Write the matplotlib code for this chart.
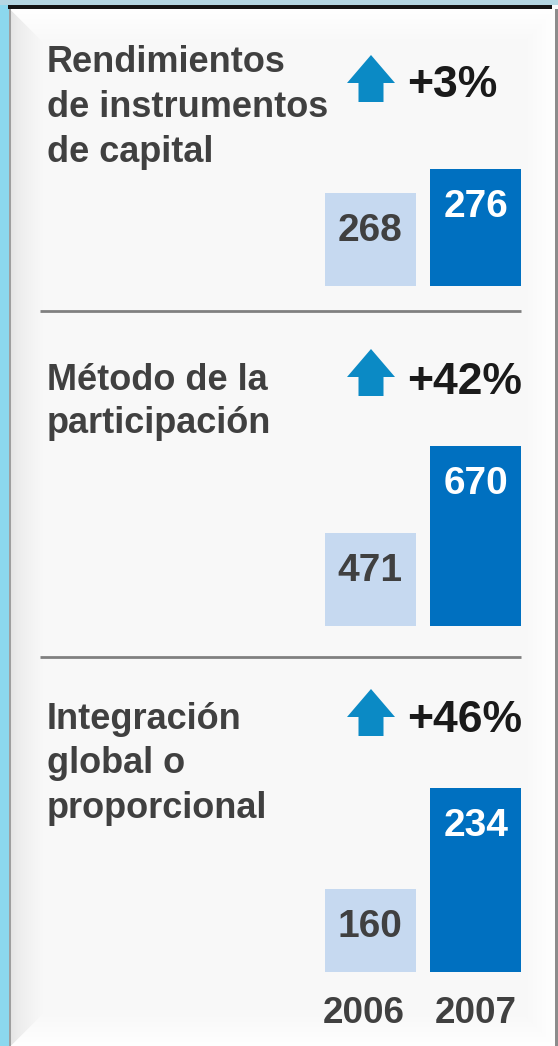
import numpy as np
import matplotlib
matplotlib.use("Agg")
import matplotlib.pyplot as plt
from matplotlib.patches import FancyArrow

# ---------------- data ----------------
years = ["2006", "2007"]
titles = ["Rendimientos\nde instrumentos\nde capital",
          "Método de la\nparticipación",
          "Integración\nglobal o\nproporcional"]
values_2006 = [268, 471, 160]
values_2007 = [276, 670, 234]
changes = ["+3%", "+42%", "+46%"]

# ---------------- layout (pixels) ----------------
W, H = 558, 1046
fig = plt.figure(figsize=(W / 100, H / 100), dpi=100)
plt.rcParams['font.family'] = ['Liberation Sans', 'DejaVu Sans']

# background
bg = np.ones((H, W, 3)) * 0.976
yy, xx = np.mgrid[0:H, 0:W]
# top / right / bottom lighter bevel bands (soft)
top_t = np.clip((yy - 9) / 30.0, 0, 1)
m = (yy >= 9) & (yy < 40) & (xx > 10 + (yy - 9))
bg[m] = (1.0 - 0.024 * top_t[m])[:, None]
right_t = np.clip((555 - xx) / 28.0, 0, 1)
m = (xx >= 527) & (xx < 555) & (yy > 9 + (555 - xx))
bg[m] = (1.0 - 0.024 * right_t[m])[:, None]
bot_t = np.clip((H - yy) / 30.0, 0, 1)
m = (yy >= 1016) & (xx > 10 + (H - yy)) & (xx < 555 - (H - yy))
bg[m] = (1.0 - 0.024 * bot_t[m])[:, None]
# left bevel gradient
left = (xx >= 10) & (xx < 45) & (yy > 9 + (xx - 10)) & (yy < H - (xx - 10))
t = (xx - 10) / 35.0
shade = 0.88 + (0.976 - 0.88) * np.clip(t, 0, 1) ** 0.5
bg[left] = shade[left][:, None]
# outer frame
bg[:, :9] = np.array([0x8c, 0xd8, 0xee]) / 255
bg[:5, :] = np.array([0xb4, 0xd6, 0xe2]) / 255
bg[5:9, 8:552] = 0.08
bg[9:, 9:11] = 0.62
bg[9:, 555:] = 0.55
bax = fig.add_axes([0, 0, 1, 1])
bax.imshow(bg, extent=(0, W, H, 0), aspect='auto', interpolation='nearest')
bax.set_xlim(0, W)
bax.set_ylim(H, 0)
bax.axis('off')

c2006 = '#C6D9F0'
c2007 = '#0070C0'
title_col = '#404040'
pct_col = '#1a1a1a'
arrow_col = '#0B8AC5'

bar_left, bar_right = 325, 521
# per-panel: (bar baseline px, top of tallest bar px, axis floor value)
panels = [(286, 169, 237), (626, 446, 258), (972, 788, 99)]
title_baselines = [[72, 117, 162], [390, 433], [729, 773, 818]]
arrow_tips = [55, 349, 689]
pct_baselines = [97, 394, 732]
separators = [311, 657]

w = 0.858
for i, (bot, top, floor) in enumerate(panels):
    ax = fig.add_axes([bar_left / W, 1 - bot / H, (bar_right - bar_left) / W, (bot - top) / H])
    vals = [values_2006[i], values_2007[i]]
    ax.bar([0, 1], vals, width=w, color=[c2006, c2007], bottom=0)
    ax.set_xlim(-w / 2, 1 + w / 2)
    ax.set_ylim(floor, max(vals))
    ax.axis('off')
    for j, v in enumerate(vals):
        ax.annotate(str(v), (j, v), xytext=(0, -48 * 0.72), textcoords='offset points',
                    ha='center', va='baseline', fontsize=28, fontweight='bold',
                    color=title_col if j == 0 else 'white')

    # titles
    for k, line in enumerate(titles[i].split("\n")):
        bax.text(47, title_baselines[i][k], line, ha='left', va='baseline',
                 fontsize=26, fontweight='bold', color=title_col)
    # arrow
    tip = arrow_tips[i]
    bax.add_patch(FancyArrow(371, tip + 47, 0, -47, width=25, head_width=48,
                             head_length=28, length_includes_head=True,
                             color=arrow_col, lw=0))
    bax.text(407, pct_baselines[i], changes[i], ha='left', va='baseline',
             fontsize=32, fontweight='bold', color=pct_col)

for s in separators:
    bax.plot([40, 521], [s, s], color='#808080', lw=2, solid_capstyle='butt')

for j, yr in enumerate(years):
    cx = [364, 475.5][j]
    bax.text(cx, 1023, yr, ha='center', va='baseline', fontsize=26.5,
             fontweight='bold', color=title_col)

fig.savefig("out.png", dpi=100)
